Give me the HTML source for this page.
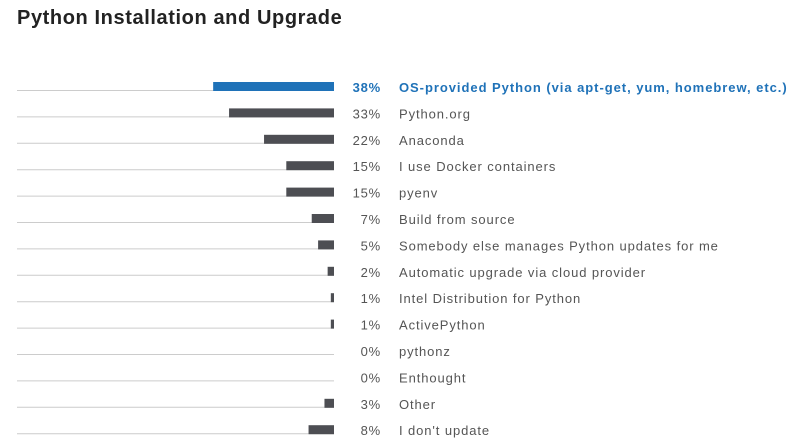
<!DOCTYPE html>
<html><head><meta charset="utf-8"><style>
body{margin:0;background:#fff;width:802px;height:442px;overflow:hidden;font-family:"Liberation Sans",sans-serif}
</style></head><body>
<svg width="802" height="442">
<text x="17" y="24" font-size="20" font-weight="bold" letter-spacing="0.6" fill="#222">Python Installation and Upgrade</text>
<g id="rows"></g>
</svg>
<script>
const categories=["OS-provided Python (via apt-get, yum, homebrew, etc.)","Python.org","Anaconda","I use Docker containers","pyenv","Build from source","Somebody else manages Python updates for me","Automatic upgrade via cloud provider","Intel Distribution for Python","ActivePython","pythonz","Enthought","Other","I don't update"];
const values=[38,33,22,15,15,7,5,2,1,1,0,0,3,8];
const valueLabels=["38%","33%","22%","15%","15%","7%","5%","2%","1%","1%","0%","0%","3%","8%"];
const x0=334, scale=3.18, y0=82, step=26.4;
function xLen(v){return v*scale;}
function yRow(i){return y0+i*step;}
const g=document.getElementById('rows');
const ns="http://www.w3.org/2000/svg";
categories.forEach((c,i)=>{
  const y=yRow(i), hl=i===0;
  const ln=document.createElementNS(ns,'line');
  ln.setAttribute('x1',17);ln.setAttribute('x2',x0);ln.setAttribute('y1',y+8.5);ln.setAttribute('y2',y+8.5);
  ln.setAttribute('stroke','#ccc');
  
  
  g.appendChild(ln);
  const r=document.createElementNS(ns,'rect');
  const w=xLen(values[i]);
  r.setAttribute('x',x0-w);r.setAttribute('y',y);r.setAttribute('width',w);r.setAttribute('height',9);
  r.setAttribute('fill',hl?'#1f72b8':'#4d4e53');
  
  
  g.appendChild(r);
  const p=document.createElementNS(ns,'text');
  p.setAttribute('x',381);p.setAttribute('y',y+10);p.setAttribute('text-anchor','end');
  p.setAttribute('font-size','13');p.setAttribute('fill',hl?'#1f72b8':'#555');
  p.setAttribute('letter-spacing','0.8');
  if(hl)p.setAttribute('font-weight','bold');
  p.textContent=valueLabels[i];
  
  
  g.appendChild(p);
  const t=document.createElementNS(ns,'text');
  t.setAttribute('x',399);t.setAttribute('y',y+10);
  t.setAttribute('font-size','13');t.setAttribute('fill',hl?'#1f72b8':'#555');
  t.setAttribute('letter-spacing',hl?'0.95':'0.9');
  if(hl)t.setAttribute('font-weight','bold');
  t.textContent=c;
  
  
  g.appendChild(t);
});
</script>
</body></html>
